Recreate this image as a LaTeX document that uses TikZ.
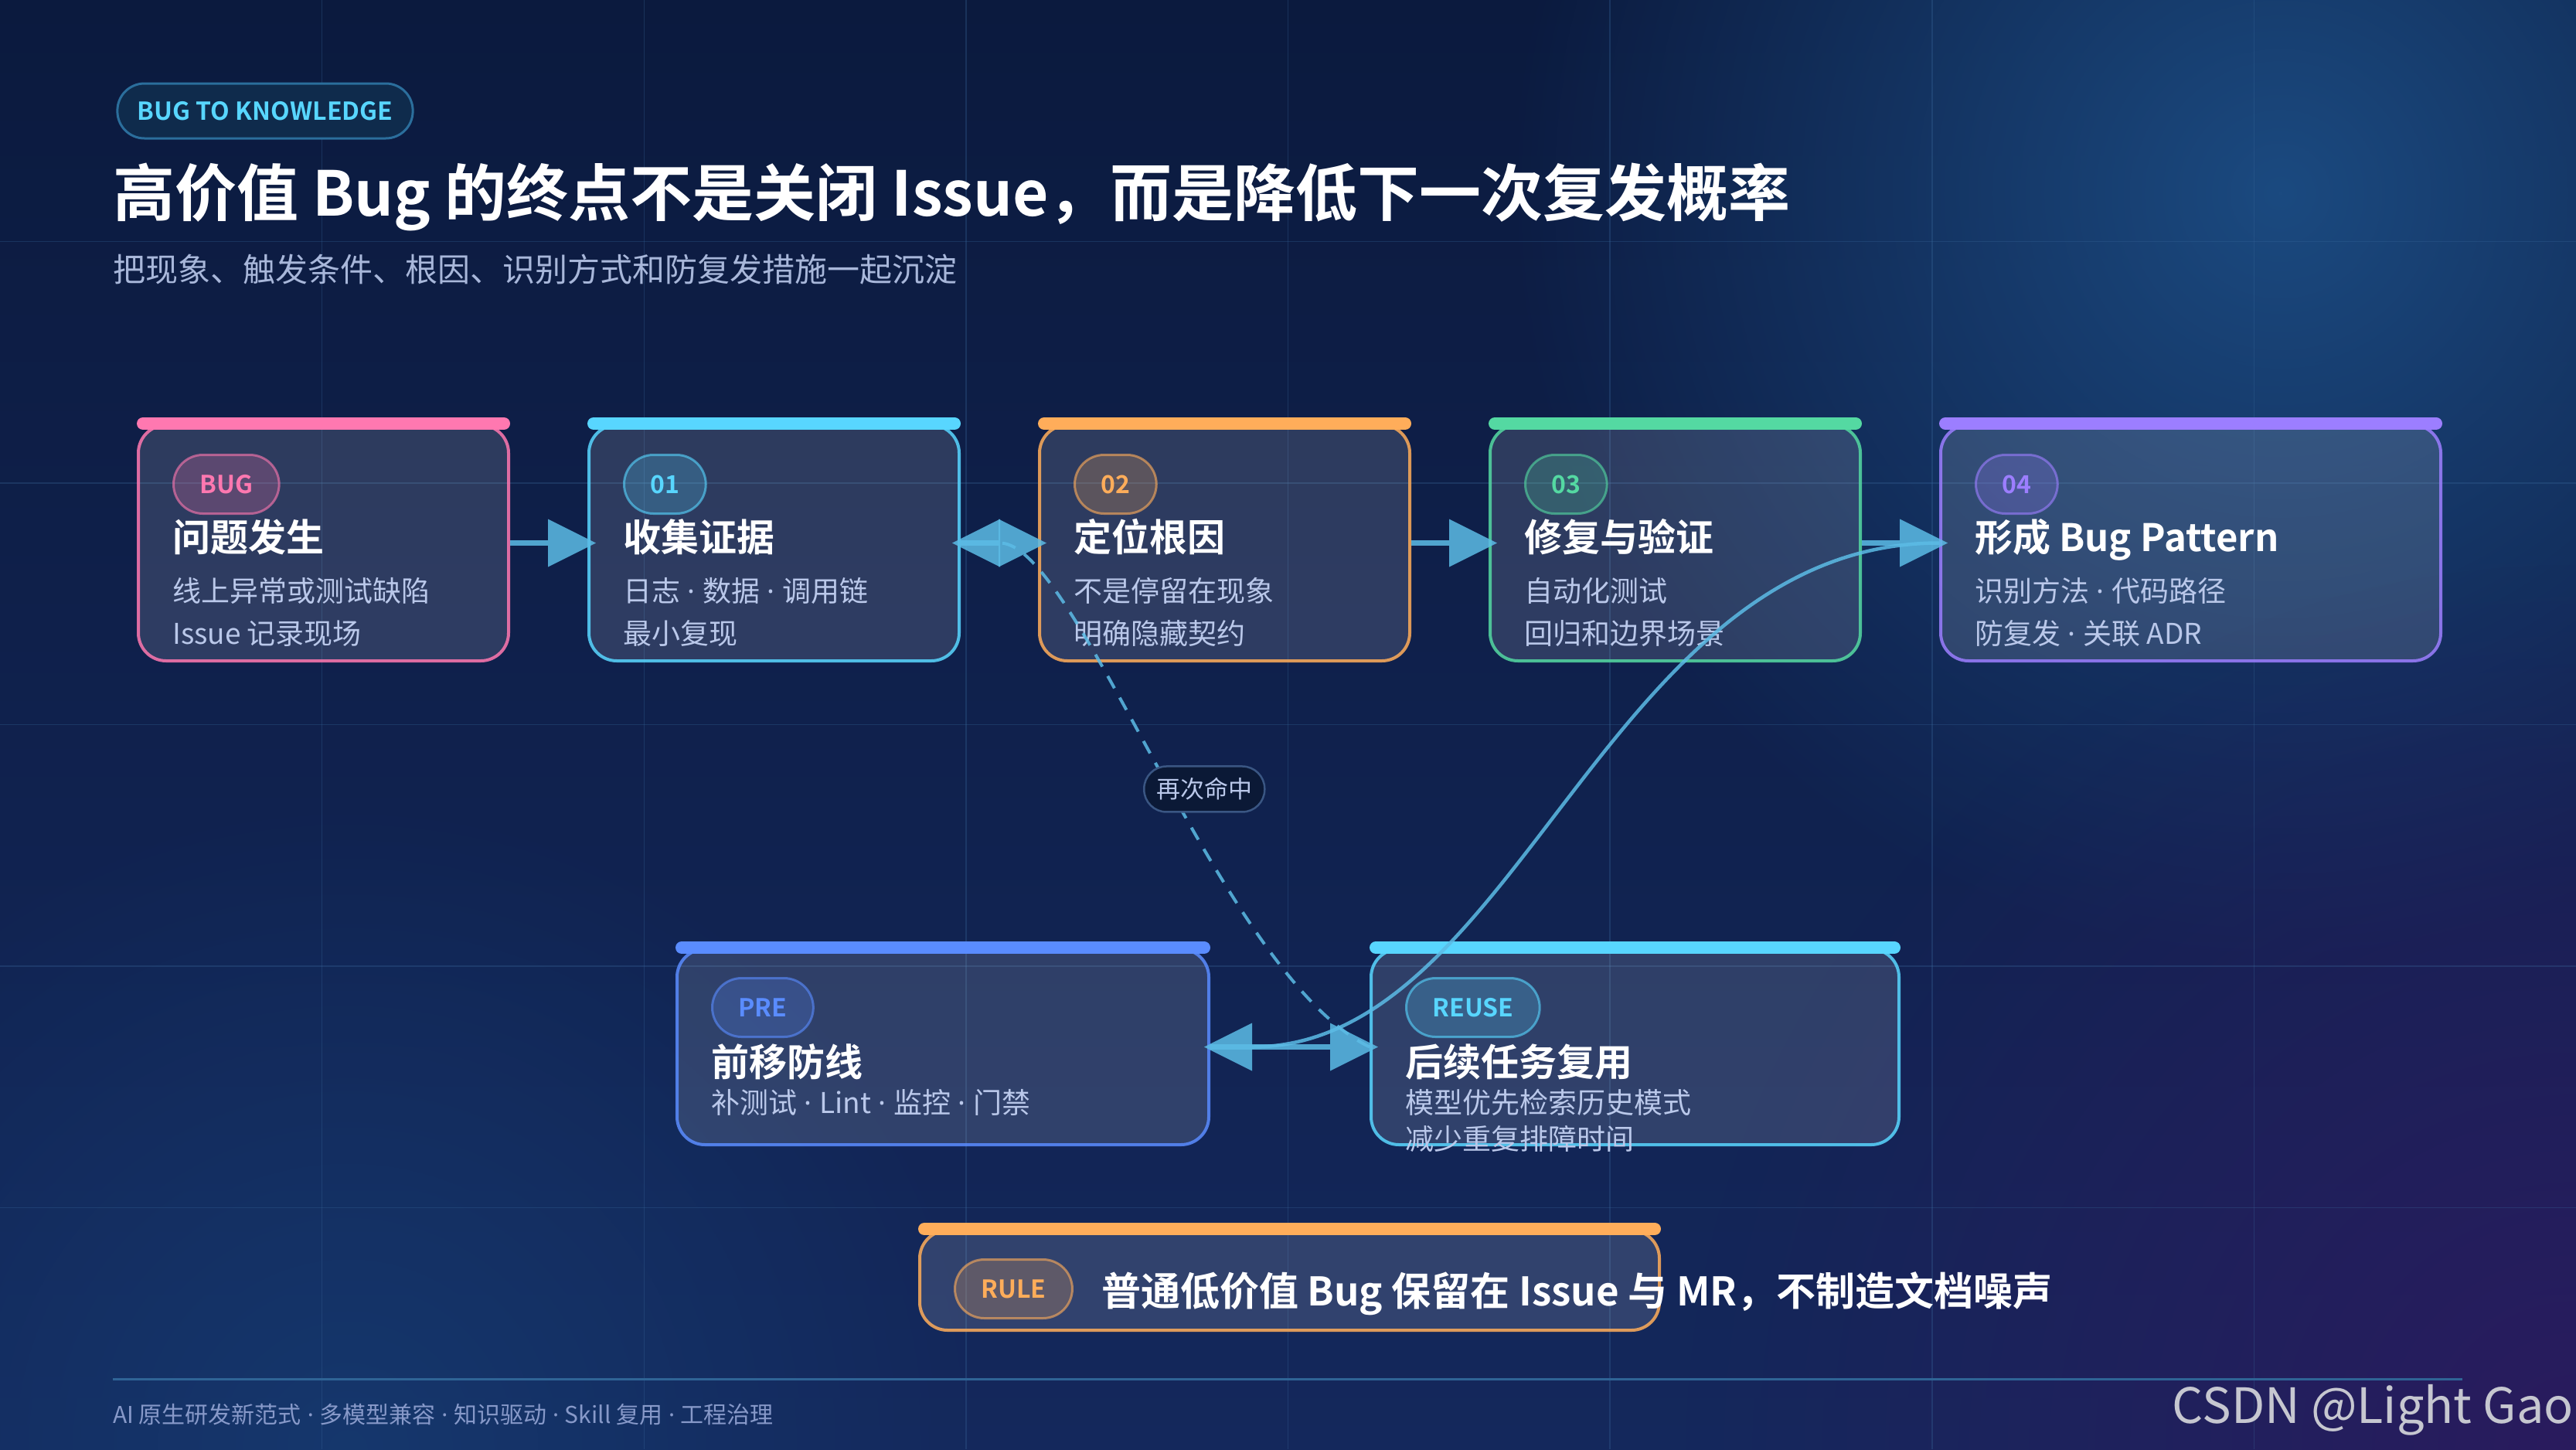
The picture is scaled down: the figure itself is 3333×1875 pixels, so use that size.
\documentclass[tikz,border=0pt]{standalone}
\usepackage{fontspec}
\setmainfont{Noto Sans CJK SC}[BoldFont={Noto Sans CJK SC Bold}]
\newfontfamily\dotfont{Noto Sans}
\newcommand\sepdot{{\dotfont\ ·\ }}
\usetikzlibrary{positioning,arrows.meta,fadings}

\definecolor{bgtop}{HTML}{0B1A3E}
\definecolor{bgbot}{HTML}{14285C}
\definecolor{glowblue}{HTML}{1B4A80}
\definecolor{glowviolet}{HTML}{2A1B5E}
\definecolor{glowlow}{HTML}{163E74}
\definecolor{gridc}{HTML}{3A6A9E}
\definecolor{pinkc}{HTML}{FF78B0}
\definecolor{cyanc}{HTML}{58D6FF}
\definecolor{orangec}{HTML}{FFAD5A}
\definecolor{greenc}{HTML}{54D9A2}
\definecolor{violetc}{HTML}{9C7EFF}
\definecolor{bluec}{HTML}{5A8CFF}
\definecolor{flowc}{HTML}{5CBCE6}
\definecolor{desctext}{HTML}{BAC8EA}
\definecolor{subtext}{HTML}{A8B7DA}
\definecolor{foottext}{HTML}{8799C9}
\definecolor{footrule}{HTML}{2F6496}
\definecolor{headfill}{HTML}{0F2B4C}
\definecolor{headborder}{HTML}{2B6E9C}
\definecolor{hitfill}{HTML}{0B1936}
\definecolor{hitborder}{HTML}{3A5683}
\definecolor{creditc}{HTML}{C6C7D0}

\tikzfading[name=glowfade, inner color=transparent!0, outer color=transparent!100]

\begin{document}
\begin{tikzpicture}[x=1pt, y=-1pt,
    card/.style={draw=#1, draw opacity=0.85, line width=4pt, fill=white, fill opacity=0.13,
      rounded corners=36pt, anchor=north west, minimum width=479pt, minimum height=305pt, inner sep=0pt},
    topbar/.style={draw=#1, line width=16pt, line cap=round},
    tag/.style={draw=#1, draw opacity=0.6, fill=#1, fill opacity=0.22, text=#1, text opacity=1,
      line width=3pt, rounded corners=38pt, minimum height=76pt, inner xsep=34pt, inner ysep=0pt,
      font=\fontsize{32pt}{32pt}\selectfont\bfseries},
    cardtitle/.style={anchor=base west, inner sep=0pt, text=white, font=\fontsize{49pt}{49pt}\selectfont\bfseries},
    carddesc/.style={anchor=base west, inner sep=0pt, text=desctext, font=\fontsize{37pt}{37pt}\selectfont},
    tip/.style={-{Triangle[length=62pt, width=62pt, line width=0pt]}},
    flow/.style={draw=flowc, line width=7pt, opacity=0.85, tip, shorten >=-11pt},
    curveflow/.style={draw=flowc, line width=4.5pt, opacity=0.85, tip, shorten >=-8pt},
    rehit/.style={draw=flowc, line width=4pt, opacity=0.85, dash pattern=on 18pt off 14pt, tip, shorten >=-11pt},
    hitlabel/.style={solid, opacity=1, draw=hitborder, line width=2.5pt, fill=hitfill, text=desctext,
      rounded corners=29pt, minimum height=59pt, inner xsep=16pt, inner ysep=0pt, font=\fontsize{31pt}{31pt}\selectfont},
    gridline/.style={draw=gridc, line width=1.5pt, opacity=0.3},
    headtag/.style={draw=headborder, line width=3pt, fill=headfill, text=cyanc, rounded corners=35pt,
      minimum height=71pt, inner xsep=26pt, inner ysep=0pt, font=\fontsize{32pt}{32pt}\selectfont\bfseries},
    headline/.style={anchor=base west, inner sep=0pt, text=white, font=\fontsize{80pt}{80pt}\selectfont\bfseries},
    subline/.style={anchor=base west, inner sep=0pt, text=subtext, font=\fontsize{42pt}{42pt}\selectfont},
    ruletext/.style={anchor=base west, inner sep=0pt, text=white, font=\fontsize{51pt}{51pt}\selectfont\bfseries},
    footnote/.style={anchor=base west, inner sep=0pt, text=foottext, font=\fontsize{30pt}{30pt}\selectfont},
    credit/.style={anchor=base east, inner sep=0pt, text=creditc, font=\fontsize{63pt}{63pt}\selectfont}
]
  % backdrop and grid
  \useasboundingbox (0,0) rectangle (3333,1875);
  \shade[top color=bgtop, bottom color=bgbot] (0,0) rectangle (3333,1875);
  \fill[glowblue, path fading=glowfade] (2950,250) circle[radius=1000pt];
  \fill[glowviolet, path fading=glowfade] (3333,1875) circle[radius=1150pt];
  \fill[glowlow, path fading=glowfade, fill opacity=0.7] (450,1875) circle[radius=850pt];
  \foreach \i in {1,...,7} \draw[gridline] (\i*416.625,0) -- (\i*416.625,1875);
  \foreach \j in {1,...,5} \draw[gridline] (0,\j*312.5) -- (3333,\j*312.5);

  % header
  \node[headtag] (kicker) at (343,143.5) {BUG TO KNOWLEDGE};
  \node[headline] (headline) at (146,279) {高价值 Bug 的终点不是关闭 Issue，而是降低下一次复发概率};
  \node[subline] (subline) at (146,364) {把现象、触发条件、根因、识别方式和防复发措施一起沉淀};

  % top row of cards
  \node[card=pinkc] (bug) at (177,548) {};
  \node[card=cyanc, right=100pt of bug] (collect) {};
  \node[card=orangec, right=100pt of collect] (locate) {};
  \node[card=greenc, right=100pt of locate] (fix) {};
  \node[card=violetc, right=100pt of fix, minimum width=647pt] (pattern) {};

  % lower cards
  \node[card=bluec, minimum width=688pt, minimum height=253pt] (pre) at (874,1226) {};
  \node[card=cyanc, minimum width=683pt, minimum height=253pt, right=206pt of pre] (reuse) {};
  \node[card=orangec, minimum width=957pt, minimum height=129pt] (rule) at (1188,1590) {};

  \foreach \n/\c in {bug/pinkc, collect/cyanc, locate/orangec, fix/greenc, pattern/violetc, pre/bluec, reuse/cyanc, rule/orangec}
    \draw[topbar=\c] ([xshift=8pt]\n.north west) -- ([xshift=-8pt]\n.north east);

  % BUG
  \node[tag=pinkc, below right=39pt and 46pt of bug.north west] (bugtag) {BUG};
  \node[below=47pt of bugtag.south west, cardtitle] (bughead) {问题发生};
  \node[below=65pt of bughead.base west, carddesc] (bugnote) {线上异常或测试缺陷};
  \node[below=55pt of bugnote.base west, carddesc] (bugnote2) {Issue 记录现场};

  % 01
  \node[tag=cyanc, below right=39pt and 46pt of collect.north west] (collecttag) {01};
  \node[below=47pt of collecttag.south west, cardtitle] (collecthead) {收集证据};
  \node[below=65pt of collecthead.base west, carddesc] (collectnote) {日志\sepdot 数据\sepdot 调用链};
  \node[below=55pt of collectnote.base west, carddesc] (collectnote2) {最小复现};

  % 02
  \node[tag=orangec, below right=39pt and 46pt of locate.north west] (locatetag) {02};
  \node[below=47pt of locatetag.south west, cardtitle] (locatehead) {定位根因};
  \node[below=65pt of locatehead.base west, carddesc] (locatenote) {不是停留在现象};
  \node[below=55pt of locatenote.base west, carddesc] (locatenote2) {明确隐藏契约};

  % 03
  \node[tag=greenc, below right=39pt and 46pt of fix.north west] (fixtag) {03};
  \node[below=47pt of fixtag.south west, cardtitle] (fixhead) {修复与验证};
  \node[below=65pt of fixhead.base west, carddesc] (fixnote) {自动化测试};
  \node[below=55pt of fixnote.base west, carddesc] (fixnote2) {回归和边界场景};

  % 04
  \node[tag=violetc, below right=39pt and 46pt of pattern.north west] (patterntag) {04};
  \node[below=47pt of patterntag.south west, cardtitle] (patternhead) {形成 Bug Pattern};
  \node[below=65pt of patternhead.base west, carddesc] (patternnote) {识别方法\sepdot 代码路径};
  \node[below=55pt of patternnote.base west, carddesc] (patternnote2) {防复发\sepdot 关联 ADR};

  % PRE / REUSE
  \node[tag=bluec, below right=38pt and 46pt of pre.north west] (pretag) {PRE};
  \node[below=49pt of pretag.south west, cardtitle] (prehead) {前移防线};
  \node[below=48pt of prehead.base west, carddesc] (prenote) {补测试\sepdot Lint\sepdot 监控\sepdot 门禁};

  \node[tag=cyanc, below right=38pt and 46pt of reuse.north west] (reusetag) {REUSE};
  \node[below=49pt of reusetag.south west, cardtitle] (reusehead) {后续任务复用};
  \node[below=48pt of reusehead.base west, carddesc] (reusenote) {模型优先检索历史模式};
  \node[below=47pt of reusenote.base west, carddesc] (reusenote2) {减少重复排障时间};

  % RULE
  \node[tag=orangec, below right=38pt and 46pt of rule.north west] (ruletag) {RULE};
  \node[right=36pt of ruletag.east, yshift=-22pt, ruletext] (rulehead) {普通低价值 Bug 保留在 Issue 与 MR，不制造文档噪声};

  % connectors
  \draw[flow] (bug) -- (collect);
  \draw[flow] (collect) -- (locate);
  \draw[flow] (locate) -- (fix);
  \draw[flow] (fix) -- (pattern);
  \draw[flow] (pre) -- (reuse);
  \draw[curveflow] (pattern.west) .. controls +(-431,0) and +(398,0) .. (pre.east);
  \draw[rehit] (reuse.west) .. controls +(-192,-93) and +(151,0) .. (collect.east)
    node[pos=0.47, xshift=50pt, hitlabel] (hit) {再次命中};

  % footer
  \draw[footrule, line width=3pt] (146,1784) -- (3186,1784);
  \node[footnote] (footer) at (146,1841) {AI 原生研发新范式\sepdot 多模型兼容\sepdot 知识驱动\sepdot Skill 复用\sepdot 工程治理};
  \node[credit] (credit) at (3330,1841) {CSDN @Light Gao};
\end{tikzpicture}
\end{document}
